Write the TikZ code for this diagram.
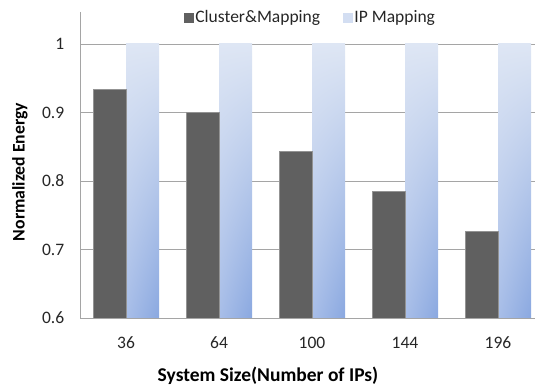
\documentclass[tikz,border=0pt]{standalone}
\usepackage{fontspec}
\setmainfont{Carlito}
\usetikzlibrary{shadings}
\definecolor{darkbar}{RGB}{96,96,96}
\definecolor{gridgray}{RGB}{165,165,165}
\definecolor{iptop}{RGB}{222,230,244}
\definecolor{iplow}{RGB}{168,190,232}
\definecolor{ipcorner}{RGB}{138,168,224}
\tikzset{
  clusterbar/.style={fill=darkbar, draw=gray!85, line width=0.6pt},
  ipbar/.style={upper left=iptop, upper right=iptop, lower left=iplow, lower right=ipcorner},
  ticklabel/.style={font=\fontsize{17.5}{20}\selectfont, text=black!85},
  axislabel/.style={font=\fontsize{19.5}{22}\selectfont\bfseries}
}
\begin{document}
\begin{tikzpicture}[x=1pt,y=1pt]
  \useasboundingbox (-80,-72) rectangle (455,318);
  %grid and y ticks
  \foreach \k/\lab in {0/0.6,1/0.7,2/0.8,3/0.9,4/1}
    \draw[gridgray, line width=0.8pt] (0,68.5*\k) -- (455,68.5*\k)
      node[pos=0, ticklabel, anchor=east, xshift=-12pt] (y\k) {\lab};
  %bars
  \foreach \i/\n/\v in {0/36/0.934,1/64/0.900,2/100/0.844,3/144/0.785,4/196/0.727}{
    \pgfmathsetmacro{\c}{46+93*\i}
    \pgfmathsetmacro{\h}{(\v-0.6)*685}
    \shade[ipbar] (\c,0) rectangle (\c+33,274);
    \draw[clusterbar] (\c-33,0) rectangle (\c,\h);
    \node[ticklabel] (x\i) at (\c,-25) {\n};
  }
  %axes
  \draw[gridgray, line width=0.8pt] (0,306) -- (0,0) -- (455,0);
  %legend
  \node[fill=darkbar, minimum size=10pt, inner sep=0pt] (key1) at (109,300) {};
  \node[ticklabel, anchor=west, inner sep=1pt] (lab1) at (key1.east) {Cluster\&Mapping};
  \node[fill=iptop!80!iplow, minimum size=10pt, inner sep=0pt] (key2) at (268,300) {};
  \node[ticklabel, anchor=west, inner sep=1pt] (lab2) at (key2.east) {IP Mapping};
  %axis titles
  \node[axislabel, font=\fontsize{17.7}{20}\selectfont\bfseries, rotate=90] (ytitle) at (-60,146) {Normalized Energy};
  \node[axislabel] (xtitle) at (188,-58) {System Size(Number of IPs)};
\end{tikzpicture}
\end{document}
